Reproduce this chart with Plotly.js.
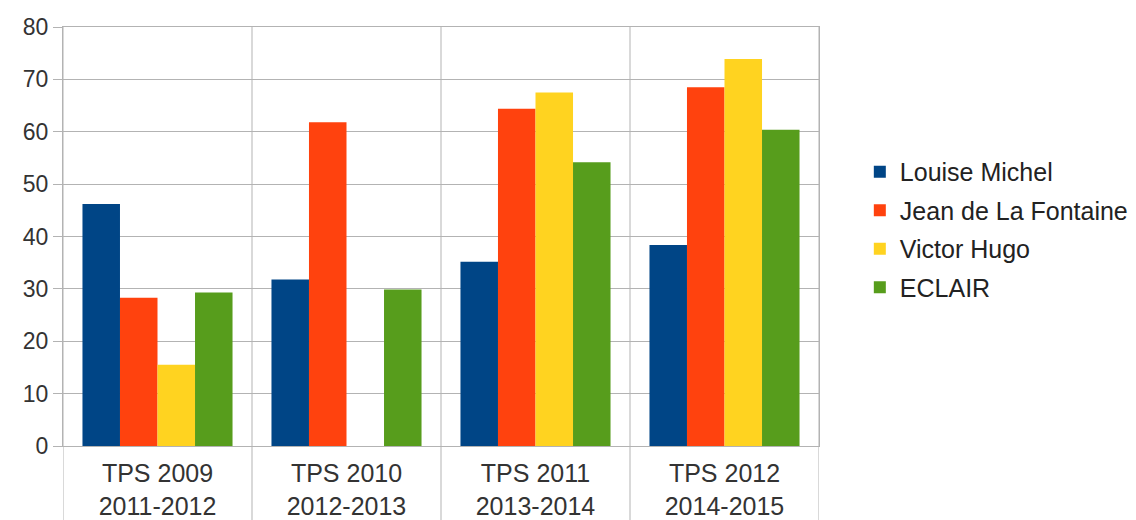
<!DOCTYPE html>
<html>
<head>
<meta charset="utf-8">
<script src="https://cdn.plot.ly/plotly-3.0.1.min.js"></script>
<style>
html,body{margin:0;padding:0;background:#fff;}
#chart{width:1136px;height:520px;}
</style>
</head>
<body>
<div id="chart"></div>
<script>
const categories = ["TPS 2009<br>2011-2012", "TPS 2010<br>2012-2013", "TPS 2011<br>2013-2014", "TPS 2012<br>2014-2015"];
const seriesNames = ["Louise Michel", "Jean de La Fontaine", "Victor Hugo", "ECLAIR"];
const louiseMichel = [46.2, 31.8, 35.2, 38.4];
const jeanDeLaFontaine = [28.3, 61.8, 64.4, 68.5];
const victorHugo = [15.5, null, 67.5, 73.9];
const eclair = [29.3, 29.9, 54.2, 60.4];
const yTicks = [0, 10, 20, 30, 40, 50, 60, 70, 80];

const colors = ["#004586", "#ff420e", "#ffd320", "#579d1c"];
const allValues = [louiseMichel, jeanDeLaFontaine, victorHugo, eclair];

const traces = allValues.map((vals, i) => ({
  type: "bar",
  name: seriesNames[i],
  legendgroup: "g" + i,
  x: categories,
  y: vals,
  marker: {color: colors[i], line: {width: 0}},
  hoverinfo: "y"
}));

const gridCol = "#b3b3b3";
const plotTop = 27, plotBottom = 446;
const below = (520 - plotBottom) / (plotBottom - plotTop);

const shapes = [];
for (let i = 0; i <= categories.length; i++) {
  shapes.push({
    type: "line", xref: "x", yref: "paper",
    x0: i - 0.5, x1: i - 0.5, y0: -below, y1: 1,
    line: {color: gridCol, width: 1}, layer: "below"
  });
}

const layout = {
  width: 1136, height: 520,
  margin: {l: 63, r: 317, t: 27, b: 74, autoexpand: false},
  paper_bgcolor: "#ffffff",
  plot_bgcolor: "#ffffff",
  font: {family: "Liberation Sans, Arial, sans-serif", color: "#333333"},
  barmode: "group",
  bargap: 0.206,
  bargroupgap: 0,
  showlegend: true,
  legend: {
    x: 1.054, xanchor: "left", y: 0.517, yanchor: "middle",
    font: {size: 25, color: "#222222"},
    tracegroupgap: 3,
    bgcolor: "rgba(0,0,0,0)", borderwidth: 0
  },
  xaxis: {
    type: "category",
    showgrid: false,
    ticks: "",
    ticklabelstandoff: 5,
    tickfont: {size: 25, color: "#333333"},
    showline: true, mirror: true, linecolor: gridCol, linewidth: 1,
    range: [-0.5, categories.length - 0.5],
    fixedrange: true
  },
  yaxis: {
    range: [0, 80],
    tickvals: yTicks,
    ticktext: yTicks.map(String),
    showgrid: true, gridcolor: gridCol, gridwidth: 1,
    ticks: "outside", ticklen: 9, tickcolor: gridCol,
    tickfont: {size: 23, color: "#333333"},
    showline: true, mirror: true, linecolor: gridCol, linewidth: 1,
    zeroline: false,
    fixedrange: true
  },
  shapes: shapes
};

Plotly.newPlot("chart", traces, layout, {displayModeBar: false, staticPlot: true});
</script>
</body>
</html>
